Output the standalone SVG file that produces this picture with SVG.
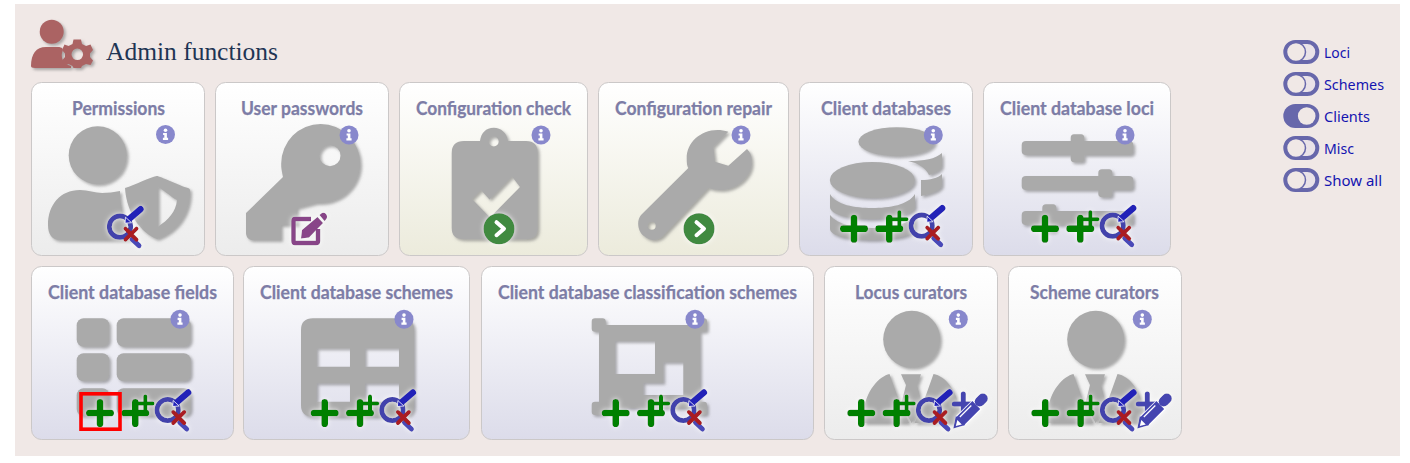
<svg xmlns="http://www.w3.org/2000/svg" width="1410" height="463" viewBox="0 0 1410 463">
<style>
.card{stroke:#cbc8c8;stroke-width:1}
.t{font-family:"Lato","Noto Sans",sans-serif;font-weight:700;font-size:18px;fill:#7d7da6;stroke:#7d7da6;stroke-width:.25}
.l{font-family:"Noto Sans","Lato",sans-serif;font-size:14px;fill:#1414b0}
.ic{fill:#aaa;fill-rule:evenodd;filter:url(#sh)}
.ov{filter:url(#gl)}
.tr{fill:#e9e2e8;stroke:#6767ab;stroke-width:4}
</style>
<defs>
<linearGradient id="gGrey" x1="0" y1="0" x2="0" y2="1"><stop offset="0" stop-color="#fff"/><stop offset="1" stop-color="#ececec"/></linearGradient>
<linearGradient id="gYel" x1="0" y1="0" x2="0" y2="1"><stop offset="0" stop-color="#fff"/><stop offset="1" stop-color="#ecebdc"/></linearGradient>
<linearGradient id="gBlue" x1="0" y1="0" x2="0" y2="1"><stop offset="0" stop-color="#fff"/><stop offset="1" stop-color="#dcdcea"/></linearGradient>
<filter id="sh" x="-15%" y="-15%" width="130%" height="130%"><feDropShadow dx="2" dy="2" stdDeviation="1.5" flood-color="#777" flood-opacity=".6"/></filter>
<filter id="gl" x="-30%" y="-30%" width="160%" height="160%"><feDropShadow dx="0" dy="0" stdDeviation="2.5" flood-color="#fff" flood-opacity=".9"/></filter>
<g id="info"><circle r="9.5" fill="#8888cc"/><circle cx="0" cy="-4.2" r="1.8" fill="#fff"/><path d="M-2.4-1.6H1.4V3.2H2.6V5.4H-2.6V3.2H-1.2V.6H-2.4Z" fill="#fff"/></g>
<path id="plus" d="M-10.700 0H10.700M0-10.700V10.700" stroke="#008000" stroke-width="6.700" stroke-linecap="round" fill="none"/>
<g id="search">
<circle r="10.700" fill="none" stroke="#4242ac" stroke-width="4.800"/>
<path d="M12 12.500L19 19" stroke="#4a4ab8" stroke-width="5" stroke-linecap="round"/>
<path d="M10-8.500L20.500-17.500" stroke="#2323b8" stroke-width="6.500" stroke-linecap="round"/>
<path d="M5-3.500L5.500-9.500L11.500-4Z" fill="#2323b8" stroke="#fff" stroke-width=".8"/>
<path d="M5.500 2L16.500 13M16.500 2L5.500 13" stroke="#aa1f24" stroke-width="4" stroke-linecap="round"/>
</g>
<g id="addset">
<use href="#plus"/>
<use href="#plus" x="35.300"/>
<path d="M38-9.400H52.500M45.300-16.500V-2.500" stroke="#008000" stroke-width="4" stroke-linecap="round" fill="none"/>
<use href="#search" x="67.700" y="-3"/>
</g>
<g id="curate">
<path d="M-9-9H11M0-19V1" stroke="#4444b0" stroke-width="5" stroke-linecap="round" fill="none"/>
<path d="M-4 9L14-8.500" stroke="#fff" stroke-width="13"/>
<path d="M-3.500 8.500L13-8" stroke="#4444b0" stroke-width="11"/>
<path d="M16.500-11.500L19.500-14.500" stroke="#4444b0" stroke-width="10" stroke-linecap="round"/>
<path d="M-10 15.500L-7.500 3L2 12Z" fill="#4444b0"/>
<path d="M-7.500 13L-6 7L-1.500 11.500Z" fill="#fff"/>
<path d="M-3.500 4L8-7.500" stroke="#fff" stroke-width="1.200"/>
</g>
<g id="person" class="ic">
<circle cx="911.700" cy="339.300" r="28.500"/>
<path d="M863.300 415C865 390 880 376 889.500 374L897 395L909 423H863.300Z"/>
<path d="M901 374.300H921L917 385L922 405L911.700 423L901 405L906 385Z"/>
<path d="M933.500 374C945 376 958 390 960 415V423H914.500L926 395Z"/>
</g>
<path id="chev" d="M-3-6.500L4.500 0L-3 6.500" fill="none" stroke="#fff" stroke-width="4" stroke-linecap="round" stroke-linejoin="round"/>
</defs>

<rect width="1410" height="463" fill="#fff"/>
<rect x="15" y="4" width="1385" height="452" fill="#f0e8e6"/>

<g id="header">
<g fill="#ab6464" filter="url(#sh)">
<circle cx="51.700" cy="31.700" r="12"/>
<path d="M31 66C31 54 36 47 46 47H58C62 47 64 49 62 53C61 58 63 64 71 66V68H35C32 68 31 67 31 66Z"/>
<path fill-rule="evenodd" d="M73.500 39.500H81L82 44L86 46L90.500 44.500L93 50L90 53.500L90 57L93 60.500L90.500 65L86 64L82 66L81 68H73.500L72.500 66L68.500 64L64 65.500L62 60.500L65 57V53.500L62 50L64.500 44.500L68.500 46L72.500 44ZM77.300 48.500A5.800 5.800 0 1 0 77.300 60.100A5.800 5.800 0 1 0 77.300 48.500Z"/>
</g>
<text x="106" y="60" font-family="'Liberation Serif',serif" font-size="26" fill="#1f3554" textLength="172" lengthAdjust="spacingAndGlyphs">Admin functions</text>
</g>

<g id="permissions">
<rect class="card" x="31.500" y="82.500" width="173" height="173" rx="10" fill="url(#gGrey)"/>
<text class="t" x="72" y="115" textLength="93" lengthAdjust="spacingAndGlyphs">Permissions</text>
<g class="ic">
<circle cx="97.700" cy="155.300" r="29"/>
<path d="M48 225C48 205 60 190 80 190C88 190 95 193 102 193C108 193 114 192 120 191C120 205 124 226 134 240H60C52 240 48 234 48 225Z"/>
<path d="M156.700 176C160 176 180 186 188 188C191 189 190 192 190 195C189 215 176 232 157 239C135 230 126 205 125 188C135 185 150 177 156.700 176ZM158 187V226.700C168 220 176 212 177 200C171 197 164 190 158 187Z"/>
</g>
<use href="#info" x="165.500" y="134.500"/>
<use class="ov" href="#search" x="120" y="226.700"/>
</g>

<g id="user-passwords">
<rect class="card" x="215.500" y="82.500" width="173" height="173" rx="10" fill="url(#gGrey)"/>
<text class="t" x="241" y="115" textLength="122" lengthAdjust="spacingAndGlyphs">User passwords</text>
<path class="ic" d="M320.700 124A39.500 39.500 0 0 1 360.200 163.500C360.200 185 342 203 320 203H316L297 208V225H281V240H252C248 240 246 236 246 233V213L283 177C282 172 281 168 281.200 163.500A39.500 39.500 0 0 1 320.700 124ZM330 145.200A10.500 10.500 0 1 0 330 166.200A10.500 10.500 0 1 0 330 145.200Z"/>
<use href="#info" x="349" y="135"/>
<g class="ov">
<path d="M311 219H295Q293.500 219 293.500 221V241Q293.500 243 295 243H316Q318 243 318 241V229" fill="none" stroke="#884488" stroke-width="4.500" stroke-linejoin="round"/>
<path d="M301 238.500L302 230L317.500 217L323 223L309 237.500ZM319.500 215L322 213Q324 212 326 214L327 216Q327.500 218 325.500 220L324.500 221Z" fill="#884488"/>
</g>
</g>

<g id="configuration-check">
<rect class="card" x="399.500" y="82.500" width="188" height="173" rx="10" fill="url(#gYel)"/>
<text class="t" x="416" y="115" textLength="155" lengthAdjust="spacingAndGlyphs">Configuration check</text>
<path class="ic" d="M464 141H480C481 133 486 127.700 493.700 127.700C501 127.700 507 133 508 141H526Q537.700 141 537.700 153V228Q537.700 239.300 526 239.300H464Q451.700 239.300 451.700 228V153Q451.700 141 464 141ZM493.700 136.500A5 5 0 1 0 493.700 146.500A5 5 0 1 0 493.700 136.500ZM472 199L490 217.500L520 187L512 176.500L489.500 199.500L481 190Z"/>
<use href="#info" x="541" y="135"/>
<g class="ov"><circle cx="499" cy="228.700" r="15.500" fill="#3f8a40"/><use href="#chev" x="499.500" y="228.700"/></g>
</g>

<g id="configuration-repair">
<rect class="card" x="598.500" y="82.500" width="190" height="173" rx="10" fill="url(#gYel)"/>
<text class="t" x="615" y="115" textLength="157" lengthAdjust="spacingAndGlyphs">Configuration repair</text>
<path class="ic" d="M728.300 131.700C706 125 686.700 140 686.700 158C686.700 163 687 166 688.300 168L641 215C636 221 638 232 644 236C650 241 656 241 662 237L708.300 188C712 189 715 190 720 190C738 190 753 175 751.700 161C752 156 750 152 747 149L728.300 165.700L715 161.700L713.300 146.700ZM651.700 221.700A4 4 0 1 0 651.700 229.700A4 4 0 1 0 651.700 221.700Z"/>
<use href="#info" x="741" y="135"/>
<g class="ov"><circle cx="699" cy="228.700" r="15.500" fill="#3f8a40"/><use href="#chev" x="699.500" y="228.700"/></g>
</g>

<g id="client-databases">
<rect class="card" x="799.500" y="82.500" width="173" height="173" rx="10" fill="url(#gBlue)"/>
<text class="t" x="821" y="115" textLength="130" lengthAdjust="spacingAndGlyphs">Client databases</text>
<g class="ic">
<ellipse cx="896.700" cy="141.700" rx="38.300" ry="14.500"/>
<ellipse cx="872.300" cy="180" rx="42.500" ry="18"/>
<path d="M830 194C836 205 855 208 872 208C890 208 908 205 915 194V207C915 215 890 219 872 219C850 219 830 215 830 207Z"/>
<path d="M830 215C838 225 855 228 872 228C890 228 908 225 915 215V229C915 236 890 240 872 240C850 240 830 236 830 229Z"/>
<path d="M908 161C925 161 935 159 942 153V165C942 170 935 173 929 175C926 168 918 163 908 161Z"/>
<path d="M921 180C930 180 938 178 942 174V185C942 190 930 194 921 196Z"/>
</g>
<use href="#info" x="933.300" y="135"/>
<use class="ov" href="#addset" x="854" y="228.700"/>
</g>

<g id="client-database-loci">
<rect class="card" x="983.500" y="82.500" width="187" height="173" rx="10" fill="url(#gBlue)"/>
<text class="t" x="1000" y="115" textLength="154" lengthAdjust="spacingAndGlyphs">Client database loci</text>
<g class="ic">
<path d="M1026 141H1070.700V138Q1070.700 134.300 1074 134.300H1081Q1084.300 134.300 1084.300 138V141H1129Q1133.300 141 1133.300 145V151Q1133.300 155 1129 155H1084.300V158.500Q1084.300 162.300 1081 162.300H1074Q1070.700 162.300 1070.700 158.500V155H1026Q1021.700 155 1021.700 151V145Q1021.700 141 1026 141Z"/>
<path d="M1026 176H1098.300V173Q1098.300 169.300 1102 169.300H1109Q1112.300 169.300 1112.300 173V176H1129Q1133.300 176 1133.300 180V186Q1133.300 190 1129 190H1112.300V193.500Q1112.300 197.300 1109 197.300H1102Q1098.300 197.300 1098.300 193.500V190H1026Q1021.700 190 1021.700 186V180Q1021.700 176 1026 176Z"/>
<path d="M1026 211H1042.300V208Q1042.300 204.300 1046 204.300H1053Q1056.300 204.300 1056.300 208V211H1129Q1133.300 211 1133.300 215V221Q1133.300 225 1129 225H1056.300V228.500Q1056.300 232 1053 232H1046Q1042.300 232 1042.300 228.500V225H1026Q1021.700 225 1021.700 221V215Q1021.700 211 1026 211Z"/>
</g>
<use href="#info" x="1125" y="135"/>
<use class="ov" href="#addset" x="1045" y="228.700"/>
</g>

<g id="client-database-fields">
<rect class="card" x="31.500" y="266.500" width="202" height="173" rx="10" fill="url(#gBlue)"/>
<text class="t" x="48" y="299" textLength="169" lengthAdjust="spacingAndGlyphs">Client database fields</text>
<g class="ic">
<rect x="76.700" y="318.300" width="32.600" height="28.400" rx="7"/>
<rect x="116.700" y="318.300" width="74" height="28.400" rx="7"/>
<rect x="76.700" y="353.300" width="32.600" height="28" rx="7"/>
<rect x="116.700" y="353.300" width="74" height="28" rx="7"/>
<rect x="76.700" y="388.300" width="32.600" height="27.700" rx="7"/>
<rect x="116.700" y="388.300" width="74" height="27.700" rx="7"/>
</g>
<use href="#info" x="180" y="319.300"/>
<use class="ov" href="#addset" x="100" y="413"/>
<rect x="81" y="393.800" width="39" height="35.400" fill="none" stroke="#f00" stroke-width="3.600"/>
</g>

<g id="client-database-schemes">
<rect class="card" x="243.500" y="266.500" width="226" height="173" rx="10" fill="url(#gBlue)"/>
<text class="t" x="260" y="299" textLength="193" lengthAdjust="spacingAndGlyphs">Client database schemes</text>
<path class="ic" d="M313 318.300H402Q414 318.300 414 330V405Q414 416.700 402 416.700H313Q301 416.700 301 405V330Q301 318.300 313 318.300ZM316.700 348.300V366.700H350V348.300ZM365 348.300V366.700H399V348.300ZM316.700 383.300V401.700H350V383.300ZM365 383.300V401.700H399V383.300Z"/>
<use href="#info" x="404" y="319.300"/>
<use class="ov" href="#addset" x="324.700" y="413"/>
</g>

<g id="client-database-classification-schemes">
<rect class="card" x="481.500" y="266.500" width="332" height="173" rx="10" fill="url(#gBlue)"/>
<text class="t" x="498" y="299" textLength="299" lengthAdjust="spacingAndGlyphs">Client database classification schemes</text>
<path class="ic" d="M595 318.300H602.500Q605.700 318.300 605.700 321.500V325H693V321.500Q693 318.300 696 318.300H704Q707 318.300 707 321.500V328.500Q707 331.700 704 331.700H700V401.700H704Q707 401.700 707 405V412Q707 415 704 415H696Q693 415 693 412V408H605.700V412Q605.700 415 602.500 415H595Q591.700 415 591.700 412V405Q591.700 401.700 595 401.700H599V331.700H595Q591.700 331.700 591.700 328.500V321.500Q591.700 318.300 595 318.300ZM615 341V374H655V341ZM663.300 362.300V382.700H643.300V395H683.300V362.300Z"/>
<use href="#info" x="695" y="319.300"/>
<use class="ov" href="#addset" x="615.700" y="413"/>
</g>

<g id="locus-curators">
<rect class="card" x="824.500" y="266.500" width="173" height="173" rx="10" fill="url(#gGrey)"/>
<text class="t" x="855" y="299" textLength="112" lengthAdjust="spacingAndGlyphs">Locus curators</text>
<use href="#person"/>
<use href="#info" x="958.300" y="319.300"/>
<g class="ov" transform="translate(861.300 413)"><use href="#addset"/><use href="#curate" x="102" y="0"/></g>
</g>

<g id="scheme-curators">
<rect class="card" x="1008.500" y="266.500" width="173" height="173" rx="10" fill="url(#gGrey)"/>
<text class="t" x="1030" y="299" textLength="129" lengthAdjust="spacingAndGlyphs">Scheme curators</text>
<use href="#person" x="184"/>
<use href="#info" x="1142.300" y="319.300"/>
<g class="ov" transform="translate(1045.300 413)"><use href="#addset"/><use href="#curate" x="102" y="0"/></g>
</g>

<g id="toggle-loci"><rect class="tr" x="1285.300" y="42" width="32" height="20" rx="10"/><circle cx="1296" cy="52" r="9.500" fill="#f0e8e6" stroke="#6767ab" stroke-width="1.500"/><text class="l" x="1324" y="58" textLength="26" lengthAdjust="spacingAndGlyphs">Loci</text></g>
<g id="toggle-schemes"><rect class="tr" x="1285.300" y="74" width="32" height="20" rx="10"/><circle cx="1296" cy="84" r="9.500" fill="#f0e8e6" stroke="#6767ab" stroke-width="1.500"/><text class="l" x="1324" y="90" textLength="60" lengthAdjust="spacingAndGlyphs">Schemes</text></g>
<g id="toggle-clients"><rect x="1283.300" y="104" width="36" height="24" rx="12" fill="#6767ab"/><circle cx="1306.700" cy="116" r="8.800" fill="#f0e8e6"/><text class="l" x="1324" y="122" textLength="46" lengthAdjust="spacingAndGlyphs">Clients</text></g>
<g id="toggle-misc"><rect class="tr" x="1285.300" y="138" width="32" height="20" rx="10"/><circle cx="1296" cy="148" r="9.500" fill="#f0e8e6" stroke="#6767ab" stroke-width="1.500"/><text class="l" x="1324" y="154" textLength="30" lengthAdjust="spacingAndGlyphs">Misc</text></g>
<g id="toggle-show-all"><rect class="tr" x="1285.300" y="170" width="32" height="20" rx="10"/><circle cx="1296" cy="180" r="9.500" fill="#f0e8e6" stroke="#6767ab" stroke-width="1.500"/><text class="l" x="1324" y="186" textLength="58" lengthAdjust="spacingAndGlyphs">Show all</text></g>
</svg>
